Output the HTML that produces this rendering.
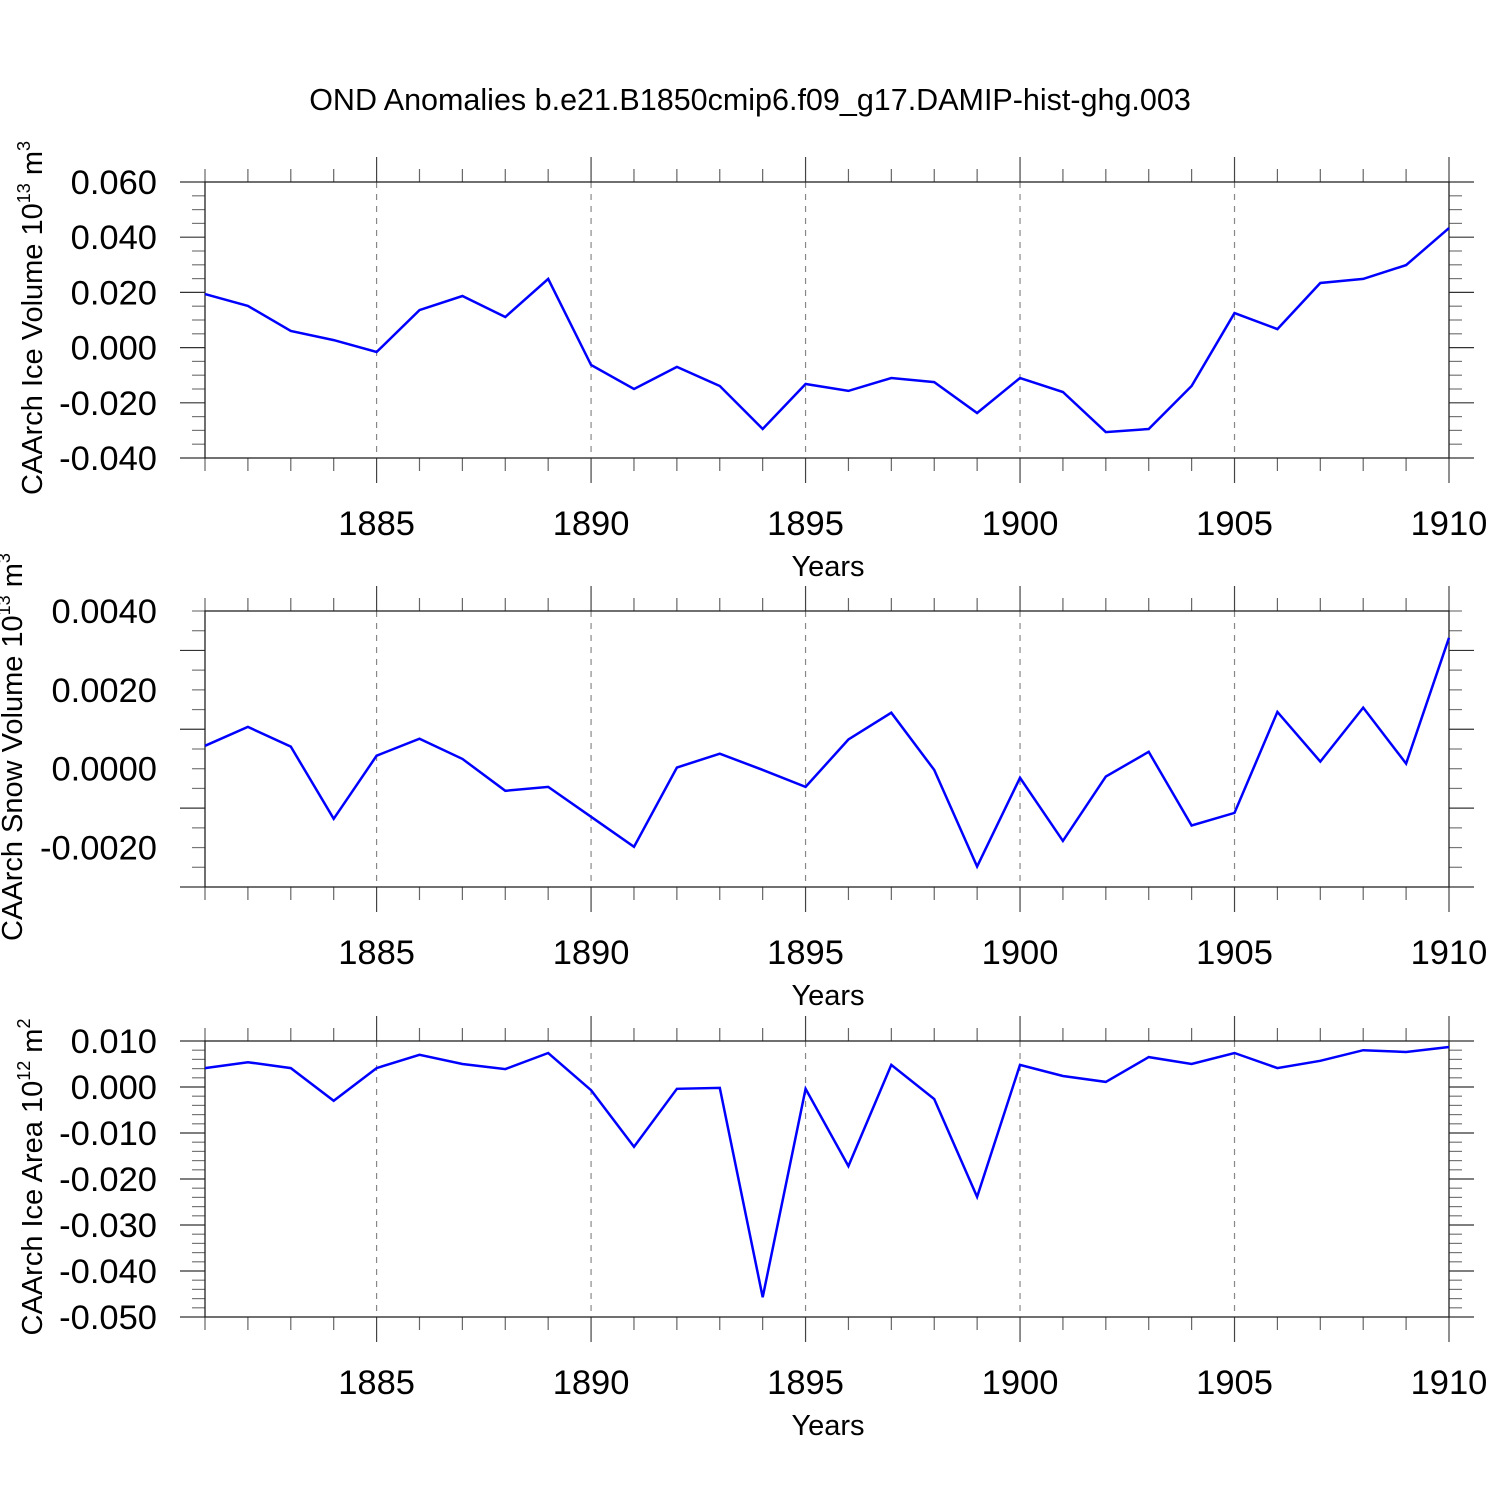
<!DOCTYPE html>
<html><head><meta charset="utf-8"><style>
html,body{margin:0;padding:0;background:#fff;}
svg{display:block;font-family:"Liberation Sans",sans-serif;}
</style></head><body>
<svg id="chart" width="1500" height="1500" viewBox="0 0 1500 1500" xmlns="http://www.w3.org/2000/svg">
<rect width="1500" height="1500" fill="#fff"/>
<text x="750" y="110" font-size="30.5" text-anchor="middle">OND Anomalies b.e21.B1850cmip6.f09_g17.DAMIP-hist-ghg.003</text>
</svg>
<script>
const years = [1881,1882,1883,1884,1885,1886,1887,1888,1889,1890,1891,1892,1893,1894,1895,1896,1897,1898,1899,1900,1901,1902,1903,1904,1905,1906,1907,1908,1909,1910];
const iceVolume = [0.0194,0.0151,0.0060,0.0027,-0.0016,0.0136,0.0187,0.0111,0.0249,-0.0063,-0.0150,-0.0070,-0.0139,-0.0295,-0.0132,-0.0157,-0.0110,-0.0125,-0.0237,-0.0110,-0.0161,-0.0306,-0.0295,-0.0139,0.0125,0.0067,0.0234,0.0249,0.0299,0.0433];
const snowVolume = [0.00058,0.00106,0.00056,-0.00127,0.00033,0.00076,0.00025,-0.00056,-0.00046,-0.00122,-0.00198,0.00003,0.00038,-0.00003,-0.00046,0.00074,0.00142,-0.00003,-0.00248,-0.00023,-0.00183,-0.00020,0.00043,-0.00144,-0.00112,0.00144,0.00018,0.00155,0.00013,0.00332];
const iceArea = [0.0041,0.0054,0.0041,-0.0030,0.0041,0.0070,0.0050,0.0039,0.0074,-0.0007,-0.0130,-0.0004,-0.0002,-0.0457,-0.0004,-0.0172,0.0048,-0.0026,-0.0239,0.0048,0.0024,0.0011,0.0065,0.0050,0.0074,0.0041,0.0057,0.0080,0.0076,0.0087];
const xTickYears = [1885,1890,1895,1900,1905,1910];
const iceVolumeTicks = ["0.060","0.040","0.020","0.000","-0.020","-0.040"];
const snowVolumeTicks = ["0.0040","0.0020","0.0000","-0.0020"];
const iceAreaTicks = ["0.010","0.000","-0.010","-0.020","-0.030","-0.040","-0.050"];

const NS = "http://www.w3.org/2000/svg";
const svg = document.getElementById('chart');
const L = 205, R = 1449, X0 = 1881, X1 = 1910;
const xs = v => L + (v - X0) / (X1 - X0) * (R - L);
function mk(tag, attrs, parent) {
  const e = document.createElementNS(NS, tag);
  for (const k in attrs) e.setAttribute(k, attrs[k]);
  (parent || svg).appendChild(e);
  return e;
}
const panels = [
  {top:182,bot:458,ymin:-0.04,ymax:0.06,major:0.02,minor:0.005,ticks:iceVolumeTicks,data:iceVolume,title:"CAArch Ice Volume 10",sup:"13",unit:" m",usup:"3",tx:42,name:"ice-volume"},
  {top:611,bot:887,ymin:-0.003,ymax:0.004,major:0.002,minor:0.0005,ticks:snowVolumeTicks,data:snowVolume,title:"CAArch Snow Volume 10",sup:"13",unit:" m",usup:"3",tx:22,name:"snow-volume"},
  {top:1041,bot:1317,ymin:-0.05,ymax:0.01,major:0.01,minor:0.002,ticks:iceAreaTicks,data:iceArea,title:"CAArch Ice Area 10",sup:"12",unit:" m",usup:"2",tx:42,name:"ice-area"}
];
panels.forEach(p => {
  const g = mk('g', {});
  
  
  const ys = v => p.bot - (v - p.ymin) / (p.ymax - p.ymin) * (p.bot - p.top);
  xTickYears.forEach(yr => {
    if (yr < X1) {
      const l = mk('line', {x1:xs(yr),x2:xs(yr),y1:p.top,y2:p.bot,stroke:'#888','stroke-width':1.2,'stroke-dasharray':'6,6'}, g);
      
      
    }
  });
  years.forEach(yr => {
    const maj = xTickYears.includes(yr);
    const len = maj ? 25 : 13;
    const c = maj ? '#444' : '#666';
    mk('line', {x1:xs(yr),x2:xs(yr),y1:p.top-len,y2:p.top,stroke:c,'stroke-width':1.2}, g);
    mk('line', {x1:xs(yr),x2:xs(yr),y1:p.bot,y2:p.bot+len,stroke:c,'stroke-width':1.2}, g);
  });
  xTickYears.forEach(yr => {
    const t = mk('text', {x:xs(yr),y:p.bot+77,'font-size':34.5,'text-anchor':'middle'}, g);
    t.textContent = yr;
    
    
  });
  const nMinor = Math.round((p.ymax - p.ymin) / p.minor);
  for (let i = 0; i <= nMinor; i++) {
    const v = p.ymin + i * p.minor;
    const isMaj = Math.abs(((v - p.ymin) / p.major) - Math.round((v - p.ymin) / p.major)) < 1e-6;
    const len = isMaj ? 25 : 13;
    const y = ys(v);
    mk('line', {x1:L-len,x2:L,y1:y,y2:y,stroke:isMaj?'#333':'#777','stroke-width':1.2}, g);
    mk('line', {x1:R,x2:R+len,y1:y,y2:y,stroke:isMaj?'#333':'#777','stroke-width':1.2}, g);
  }
  p.ticks.forEach(s => {
    const t = mk('text', {x:157,y:ys(parseFloat(s))+12,'font-size':34.5,'text-anchor':'end'}, g);
    t.textContent = s;
    
    
  });
  const fr = mk('rect', {x:L,y:p.top,width:R-L,height:p.bot-p.top,fill:'none',stroke:'#222','stroke-width':1.3}, g);
  
  
  const pts = p.data.map((v, i) => xs(years[i]).toFixed(1) + ',' + ys(v).toFixed(1)).join(' ');
  const pl = mk('polyline', {points:pts,fill:'none',stroke:'#0000ff','stroke-width':2.5,'stroke-linejoin':'miter'}, g);
  
  
  const xt = mk('text', {x:828,y:p.bot+118,'font-size':29,'text-anchor':'middle'}, g);
  xt.textContent = 'Years';
  
  
  const cy = (p.top + p.bot) / 2 - 2;
  const yt = mk('text', {x:0,y:0,'font-size':29,'text-anchor':'middle',transform:'translate(' + p.tx + ',' + cy + ') rotate(-90)'}, g);
  
  
  const a = document.createElementNS(NS, 'tspan'); a.textContent = p.title; yt.appendChild(a);
  const b = document.createElementNS(NS, 'tspan'); b.textContent = p.sup; b.setAttribute('dy', '-12'); b.setAttribute('font-size', '18'); yt.appendChild(b);
  const c = document.createElementNS(NS, 'tspan'); c.textContent = p.unit; c.setAttribute('dy', '12'); yt.appendChild(c);
  const d = document.createElementNS(NS, 'tspan'); d.textContent = p.usup; d.setAttribute('dy', '-12'); d.setAttribute('font-size', '18'); yt.appendChild(d);
});
</script>
</body></html>
